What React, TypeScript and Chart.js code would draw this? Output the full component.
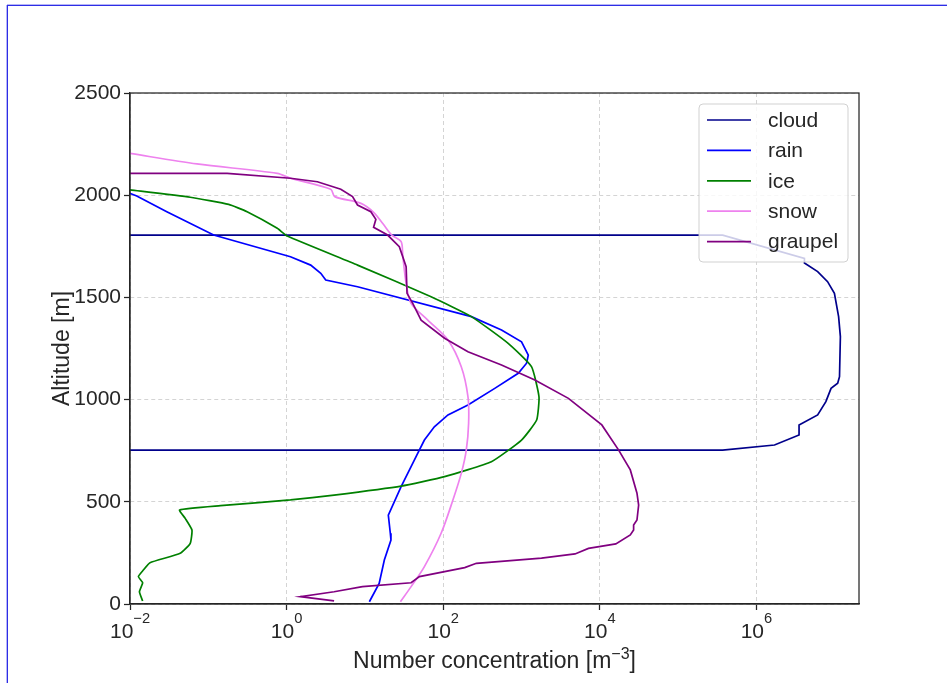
import React, { useEffect, useRef } from 'react';
import { Chart, registerables } from 'chart.js';

Chart.register(...registerables);

// zero concentration is clipped to a tiny positive value on the log axis
const TINY = 1e-30;

const seriesNames = ['cloud', 'rain', 'ice', 'snow', 'graupel'];
const seriesColors = ['#00008b', '#0000ff', '#008000', '#ee82ee', '#800080'];
const seriesTension = [0, 0, 0.15, 0.3, 0];

const cloudAlt = [1805, 1805, 1691, 1668, 1626, 1577, 1520, 1406, 1308, 1112, 1080, 1055, 990, 925, 876, 827, 778, 753, 753];
const cloudConc = [TINY, 3.7e5, 4.1e6, 4.1e6, 6.05e6, 8.1e6, 9.9e6, 1.12e7, 1.18e7, 1.15e7, 1.09e7, 8.97e6, 7.7e6, 6.05e6, 3.5e6, 3.5e6, 1.7e6, 3.7e5, TINY];

const rainAlt = [2012, 1996, 1919, 1805, 1699, 1658, 1618, 1585, 1552, 1406, 1341, 1283, 1218, 1178, 1129, 1055, 974, 925, 867, 802, 721, 574, 435, 346, 313, 215, 101, 11];
const rainConc = [0.0095, 0.0122, 0.0295, 0.117, 1.12, 2.03, 2.73, 3.16, 8.05, 229, 555, 1000, 1220, 1160, 908, 455, 207, 115, 77, 57.5, 45, 29, 19.9, 21.1, 21.5, 17.7, 15.2, 11.4];

const iceAlt = [2027, 1990, 1955, 1919, 1838, 1800, 1658, 1503, 1406, 1275, 1161, 1014, 900, 802, 696, 623, 577, 533, 509, 481, 460, 419, 362, 297, 248, 202, 166, 134, 104, 60, 15];
const iceConc = [0.0095, 0.0587, 0.182, 0.313, 0.76, 1.02, 8.05, 70, 229, 675, 1340, 1670, 1560, 1000, 412, 104, 29, 4.04, 1.12, 0.143, 0.043, 0.0507, 0.0618, 0.0588, 0.0438, 0.018, 0.0148, 0.0128, 0.0145, 0.0132, 0.0145];

const snowAlt = [2205, 2153, 2107, 2083, 2029, 1993, 1960, 1915, 1860, 1805, 1773, 1707, 1569, 1471, 1389, 1292, 1161, 1014, 884, 753, 639, 509, 346, 183, 85, 11];
const snowConc = [0.0098, 0.0716, 0.76, 1.12, 3.66, 4.12, 8.9, 13, 17, 22, 29, 30.4, 33.6, 38.9, 63.5, 115, 170, 207, 211, 197, 170, 133, 94, 57.5, 38.9, 28.4];

const graupelAlt = [2107, 2107, 2083, 2066, 2029, 1993, 1952, 1919, 1882, 1843, 1805, 1748, 1650, 1520, 1471, 1389, 1300, 1234, 1169, 1096, 1006, 876, 753, 656, 542, 484, 411, 387, 362, 338, 294, 272, 245, 224, 199, 178, 134, 104, 85, 60, 36, 15];
const graupelConc = [TINY, 0.174, 1.12, 2.47, 4.92, 6.95, 8.05, 11.9, 13.8, 12.9, 19.5, 27.5, 33.6, 34.5, 40.8, 52.2, 104, 207, 555, 1480, 3970, 10600, 17400, 24500, 29800, 31300, 29800, 27000, 27000, 24500, 16000, 7160, 4820, 1800, 265, 188, 49.7, 38.9, 9.3, 4.04, 1.5, 4.04];

const seriesAlt = [cloudAlt, rainAlt, iceAlt, snowAlt, graupelAlt];
const seriesConc = [cloudConc, rainConc, iceConc, snowConc, graupelConc];

const xTickValues = [1e-2, 1e0, 1e2, 1e4, 1e6];
const xTickBase = '10';
const xTickExponents = ['\u22122', '0', '2', '4', '6'];
const xMin = 1e-2;
const xMax = 2.04e7;
const yMin = 0;
const yMax = 2500;
const yStep = 500;

const xTitleMain = 'Number concentration [m';
const xTitleSup = '\u22123';
const xTitleEnd = ']';
const yTitle = 'Altitude [m]';

const FONT = '"Liberation Sans", Arial, Helvetica, sans-serif';
const TEXT = '#262626';
const FRAME_BLUE = 'rgb(45,45,230)';

const overlayPlugin = {
  id: 'overlay',
  afterDatasetsDraw(chart: any) {
    const { ctx, chartArea: a } = chart;
    ctx.save();
    // spines
    ctx.strokeStyle = TEXT;
    ctx.lineWidth = 1.25;
    ctx.strokeRect(a.left, a.top, a.right - a.left, a.bottom - a.top);

    // legend (upper right)
    const bx = a.right - 160;
    const by = a.top + 11;
    const bw = 149;
    const bh = 158;
    const r = 4;
    ctx.beginPath();
    ctx.moveTo(bx + r, by);
    ctx.lineTo(bx + bw - r, by);
    ctx.arcTo(bx + bw, by, bx + bw, by + r, r);
    ctx.lineTo(bx + bw, by + bh - r);
    ctx.arcTo(bx + bw, by + bh, bx + bw - r, by + bh, r);
    ctx.lineTo(bx + r, by + bh);
    ctx.arcTo(bx, by + bh, bx, by + bh - r, r);
    ctx.lineTo(bx, by + r);
    ctx.arcTo(bx, by, bx + r, by, r);
    ctx.closePath();
    ctx.fillStyle = 'rgba(255,255,255,0.8)';
    ctx.fill();
    ctx.strokeStyle = 'rgba(204,204,204,0.9)';
    ctx.lineWidth = 1;
    ctx.stroke();

    ctx.font = `21px ${FONT}`;
    ctx.textBaseline = 'middle';
    ctx.textAlign = 'left';
    seriesNames.forEach((name, i) => {
      const yy = by + 16 + i * 30.4;
      ctx.strokeStyle = seriesColors[i];
      ctx.lineWidth = 1.7;
      ctx.beginPath();
      ctx.moveTo(bx + 8, yy);
      ctx.lineTo(bx + 52, yy);
      ctx.stroke();
      ctx.fillStyle = TEXT;
      ctx.fillText(name, bx + 69, yy + 1);
    });
    ctx.restore();
  },
  afterDraw(chart: any) {
    const { ctx, chartArea: a, scales, width, height } = chart;
    const xs = scales.x;
    ctx.save();
    // outer frame (top and left edges)
    ctx.fillStyle = 'rgba(45,45,230,0.35)';
    ctx.fillRect(7, 4, width - 7, 1);
    ctx.fillRect(6, 5, 1, height - 5);
    ctx.fillStyle = FRAME_BLUE;
    ctx.fillRect(7, 5, width - 7, 1);
    ctx.fillRect(7, 5, 1, height - 5);

    ctx.fillStyle = TEXT;
    ctx.textBaseline = 'alphabetic';
    ctx.textAlign = 'left';
    // x tick labels: 10 with raised exponent
    xTickValues.forEach((v, i) => {
      const px = xs.getPixelForValue(v);
      ctx.font = `21px ${FONT}`;
      const wBase = ctx.measureText(xTickBase).width;
      ctx.font = `14.7px ${FONT}`;
      const wExp = ctx.measureText(xTickExponents[i]).width;
      const x0 = px - (wBase + wExp) / 2;
      ctx.font = `21px ${FONT}`;
      ctx.fillText(xTickBase, x0, a.bottom + 34);
      ctx.font = `14.7px ${FONT}`;
      ctx.fillText(xTickExponents[i], x0 + wBase, a.bottom + 19);
    });

    // x title
    ctx.font = `23px ${FONT}`;
    const w1 = ctx.measureText(xTitleMain).width;
    const w3 = ctx.measureText(xTitleEnd).width;
    ctx.font = `16px ${FONT}`;
    const w2 = ctx.measureText(xTitleSup).width;
    const cx = (a.left + a.right) / 2;
    const tx = cx - (w1 + w2 + w3) / 2;
    const base = a.bottom + 64;
    ctx.font = `23px ${FONT}`;
    ctx.fillText(xTitleMain, tx, base);
    ctx.font = `16px ${FONT}`;
    ctx.fillText(xTitleSup, tx + w1, base - 9);
    ctx.font = `23px ${FONT}`;
    ctx.fillText(xTitleEnd, tx + w1 + w2, base);

    // y title
    ctx.translate(a.left - 61, (a.top + a.bottom) / 2);
    ctx.rotate(-Math.PI / 2);
    ctx.textAlign = 'center';
    ctx.font = `23px ${FONT}`;
    ctx.fillText(yTitle, 0, 0);
    ctx.restore();
  },
};

export default function App() {
  const canvasRef = useRef<HTMLCanvasElement | null>(null);

  useEffect(() => {
    if (!canvasRef.current) return;
    Chart.defaults.font.family = FONT;
    const datasets = seriesNames.map((name, i) => ({
      label: name,
      data: seriesConc[i].map((c, j) => ({ x: c, y: seriesAlt[i][j] })),
      showLine: true,
      borderColor: seriesColors[i],
      backgroundColor: seriesColors[i],
      borderWidth: 1.7,
      pointRadius: 0,
      pointHoverRadius: 0,
      tension: seriesTension[i],
      fill: false,
      order: seriesNames.length - i,
    }));

    const chart = new Chart(canvasRef.current, {
      type: 'scatter',
      data: { datasets },
      options: {
        responsive: false,
        animation: false,
        events: [],
        layout: { padding: { left: 0, top: 93, right: 88, bottom: 0 } },
        plugins: {
          legend: { display: false },
          tooltip: { enabled: false },
          title: { display: false },
        },
        scales: {
          x: {
            type: 'logarithmic',
            min: xMin,
            max: xMax,
            afterBuildTicks: (s: any) => {
              s.ticks = xTickValues.map((v) => ({ value: v }));
            },
            afterFit: (s: any) => {
              s.height = 79;
            },
            ticks: {
              callback: () => '',
              autoSkip: false,
              maxRotation: 0,
              padding: 0,
            },
            grid: {
              color: '#d4d4d4',
              lineWidth: 1,
              drawTicks: true,
              tickLength: 6,
              tickColor: TEXT,
              tickWidth: 1.25,
              tickBorderDash: [],
            },
            border: { display: true, color: TEXT, width: 1.25, dash: [4, 3] },
          },
          y: {
            type: 'linear',
            min: yMin,
            max: yMax,
            ticks: {
              stepSize: yStep,
              color: TEXT,
              font: { size: 21, family: FONT },
              padding: 3,
              callback: (v: any) => String(v),
            },
            afterFit: (s: any) => {
              s.width = 130;
            },
            grid: {
              color: '#d4d4d4',
              lineWidth: 1,
              drawTicks: true,
              tickLength: 6,
              tickColor: TEXT,
              tickWidth: 1.25,
              tickBorderDash: [],
            },
            border: { display: true, color: TEXT, width: 1.25, dash: [4, 3] },
          },
        },
      },
      plugins: [overlayPlugin],
    } as any);

    return () => chart.destroy();
  }, []);

  return (
    <div style={{ position: 'fixed', left: 0, top: 0, width: 947, height: 683, background: '#fff', overflow: 'hidden' }}>
      <canvas
        ref={canvasRef}
        width={947}
        height={683}
        style={{ position: 'absolute', left: 0, top: 0, display: 'block' }}
      />
    </div>
  );
}
